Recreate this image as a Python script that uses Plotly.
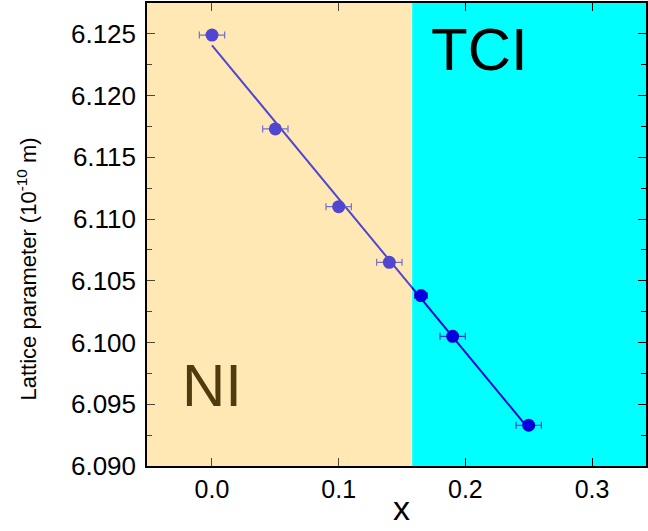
import numpy as np
import plotly.graph_objects as go

# Data
x_vals = [0.0, 0.05, 0.10, 0.14, 0.165, 0.19, 0.25]
lattice = [6.1249, 6.1173, 6.1110, 6.1065, 6.1038, 6.1005, 6.0933]
x_err = [0.01, 0.01, 0.01, 0.01, 0.005, 0.01, 0.01]
boundary_x = 0.158
x_ticks = [0.0, 0.1, 0.2, 0.3]
y_ticks = [6.090, 6.095, 6.100, 6.105, 6.110, 6.115, 6.120, 6.125]

# linear fit
slope, intercept = np.polyfit(x_vals, lattice, 1)
fit_x = [min(x_vals), max(x_vals)]
fit_y = [slope * v + intercept for v in fit_x]

BEIGE = "rgb(255,233,180)"
CYAN = "rgb(0,255,255)"
BLUE = "rgb(5,0,220)"
FONT = "Liberation Sans, Arial, sans-serif"

fig = go.Figure()
fig.add_trace(go.Scatter(x=fit_x, y=fit_y, mode="lines",
                         line=dict(color=BLUE, width=2), showlegend=False))
fig.add_trace(go.Scatter(x=x_vals, y=lattice, mode="markers",
                         marker=dict(color=BLUE, size=13),
                         error_x=dict(type="data", array=x_err, visible=True,
                                      color="rgb(50,60,230)", thickness=1.2, width=3.5),
                         showlegend=False))

x_min, x_max = -0.0513, 0.3426
y_min, y_max = 6.090, 6.1275

fig.add_shape(type="rect", xref="x", yref="paper", x0=x_min, x1=boundary_x, y0=0, y1=1,
              fillcolor=BEIGE, line=dict(width=0), layer="below")
fig.add_shape(type="rect", xref="x", yref="paper", x0=boundary_x, x1=x_max, y0=0, y1=1,
              fillcolor=CYAN, line=dict(width=0), layer="below")
fig.add_shape(type="rect", xref="x", yref="paper", x0=x_min, x1=boundary_x, y0=0, y1=1,
              fillcolor=BEIGE, opacity=0.3, line=dict(width=0), layer="above")

fig.add_annotation(text="NI", x=0.0, y=6.0965, xref="x", yref="y", showarrow=False,
                   font=dict(size=60, color="rgb(78,60,14)", family=FONT))
fig.add_annotation(text="TCI", x=0.211, y=6.1237, xref="x", yref="y", showarrow=False,
                   font=dict(size=60, color="black", family=FONT))
fig.add_annotation(text="Lattice parameter (10<sup>-10</sup> m)", textangle=-90,
                   x=-0.24, y=0.425, xref="paper", yref="paper", showarrow=False,
                   xanchor="center", yanchor="middle",
                   font=dict(size=22, color="black", family=FONT))
fig.add_annotation(text="x", x=0.511, y=-0.137, xref="paper", yref="paper", showarrow=False,
                   xanchor="center", yanchor="bottom",
                   font=dict(size=34, color="black", family=FONT))

fig.update_xaxes(range=[x_min, x_max], tickvals=x_ticks, ticktext=[f"{v:.1f}" for v in x_ticks],
                 ticks="inside", ticklen=8, tickwidth=1.2, tickcolor="black",
                 showline=True, linecolor="black", linewidth=1.5, mirror="ticks",
                 showgrid=False, zeroline=False,
                 tickfont=dict(size=25, color="black", family=FONT))
fig.update_yaxes(range=[y_min, y_max], tickvals=y_ticks, ticktext=[f"{v:.3f}" for v in y_ticks],
                 ticks="inside", ticklen=8, tickwidth=1.2, tickcolor="black",
                 minor=dict(ticks="inside", ticklen=5, tickwidth=1.2, tickcolor="black", dtick=0.0025),
                 showline=True, linecolor="black", linewidth=1.5, mirror="ticks",
                 showgrid=False, zeroline=False, ticklabelstandoff=4,
                 tickfont=dict(size=26, color="black", family=FONT))

fig.update_layout(width=648, height=531, margin=dict(l=147, r=0, t=3, b=65),
                  paper_bgcolor="white", plot_bgcolor="white")
fig.write_html("out.html", config={"displayModeBar": False},
               post_script="document.body.style.margin='0';document.body.style.overflow='hidden';")
